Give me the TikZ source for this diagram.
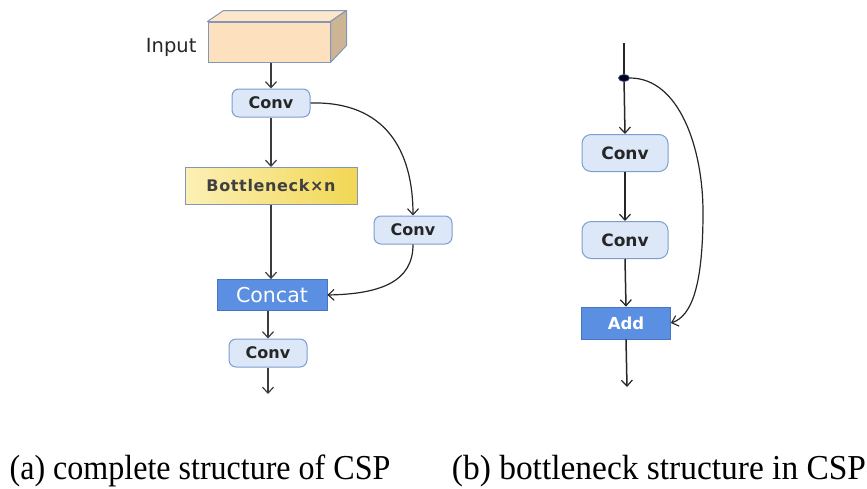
\documentclass[tikz,border=0pt]{standalone}
\usepackage{fontspec}
\setmainfont{Liberation Serif}
\newfontfamily\boxsans{DejaVu Sans}
\newfontfamily\boxsanswide[LetterSpace=4]{DejaVu Sans}
\usetikzlibrary{arrows.meta,shapes.geometric,calc}

\definecolor{convfill}{HTML}{DCE7F8}
\definecolor{convedge}{HTML}{7C9DD2}
\definecolor{bluefill}{HTML}{5A8FE2}
\definecolor{blueedge}{HTML}{4775C0}
\definecolor{inputfront}{HTML}{FDE1BF}
\definecolor{inputside}{HTML}{CDB494}
\definecolor{inputedge}{HTML}{8496B8}
\definecolor{boxedge}{HTML}{8496B8}
\definecolor{linegray}{HTML}{3C3C3C}
\definecolor{bnleft}{HTML}{FCF0B6}
\definecolor{bnright}{HTML}{F1D754}

\tikzset{
  convbox/.style={draw=convedge, fill=convfill, line width=1pt, rounded corners=7pt,
    minimum width=78pt, minimum height=28pt, inner sep=0pt,
    font=\boxsans\bfseries\fontsize{16}{19}\selectfont, text=black!85},
  bluebox/.style={draw=blueedge, fill=bluefill, line width=0.8pt,
    minimum height=31pt, inner sep=0pt, text=white},
  flow/.style={draw=linegray, line width=1.5pt, -{Straight Barb[length=6pt,width=11pt,line width=1.2pt]}},
  skip/.style={draw=black!85, line width=1.2pt, -{Straight Barb[length=6pt,width=11pt,line width=1.1pt]}},
  caption/.style={font=\fontsize{35}{40}\selectfont, anchor=base},
}
\newcommand{\narrowtext}[2]{\scalebox{#1}[1]{#2}}

\begin{document}
\begin{tikzpicture}[x=1pt,y=-1pt]
\useasboundingbox (0,0) rectangle (867,488);

% ---------- (a) complete structure of CSP ----------
\node[draw=inputedge, fill=inputfront, line width=1pt, minimum width=122pt,
      minimum height=40pt, inner sep=0pt] (input) at (269,42) {};
\coordinate (tl) at (input.north west);
\coordinate (tr) at (input.north east);
\coordinate (br) at (input.south east);
\filldraw[draw=inputedge, fill=inputfront!85!white, line width=1pt, line join=round]
  (tl) -- ++(16,-11) -- ($(tr)+(16,-11)$) -- (tr) -- cycle;
\filldraw[draw=inputedge, fill=inputside, line width=1pt, line join=round]
  (tr) -- ++(16,-11) -- ($(br)+(16,-17)$) -- (br) -- cycle;
\node[font=\boxsans\fontsize{19.5}{22}\selectfont, text=black!85, anchor=east] (inlabel) at (200,47) {Input};

\node[convbox] (c1) at (271,103) {Conv};
\node[draw=boxedge, line width=1pt, minimum width=172pt, minimum height=37pt, inner sep=0pt,
      left color=bnleft, right color=bnright,
      font=\boxsanswide\bfseries\fontsize{16}{19}\selectfont, text=black!75] (bn) at (271,186) {Bottleneck×n};
\node[convbox] (c2) at (413,230) {Conv};
\node[bluebox, minimum width=110pt, font=\boxsans\fontsize{20.5}{23}\selectfont] (cat) at (272,295) {Concat};
\node[convbox] (c3) at (268,353) {Conv};
\coordinate (aout) at (268,394);

\draw[flow] (input.south -| c1) -- (c1.north);
\draw[flow] (c1.south) -- (bn.north -| c1);
\draw[flow] (bn.south -| c1) -- (cat.north -| c1);
\draw[flow] (cat.south -| c3) -- (c3.north);
\draw[flow] (c3.south) -- (aout);
\draw[skip] (c1.east) .. controls (385,101) and (413,150) .. (c2.north);
\draw[skip] (c2.south) .. controls (413,282) and (380,294) .. (cat.east);

% ---------- (b) bottleneck structure in CSP ----------
\coordinate (bin) at (624,43);
\node[draw=blueedge!70!black, fill=black!90!blue, line width=0.8pt, ellipse,
      minimum width=11pt, minimum height=7pt, inner sep=0pt] (dot) at (624,78) {};
\node[convbox, minimum width=86pt, minimum height=37pt, rounded corners=9pt,
      font=\boxsans\bfseries\fontsize{17}{20}\selectfont] (b1) at (625,153) {Conv};
\node[convbox, minimum width=86pt, minimum height=37pt, rounded corners=9pt,
      font=\boxsans\bfseries\fontsize{17}{20}\selectfont] (b2) at (625,240) {Conv};
\node[bluebox, minimum width=89pt, minimum height=32pt,
      font=\boxsans\bfseries\fontsize{16.5}{19}\selectfont] (add) at (626,323) {Add};
\coordinate (bout) at (627,387);

\draw[black!85, line width=1.4pt] (bin) -- (dot);
\draw[flow, draw=black!85] (dot) -- (b1.north);
\draw[flow, draw=black!85] (b1.south) -- (b2.north);
\draw[flow, draw=black!85] (b2.south) -- (add.north);
\draw[flow, draw=black!85] (add.south) -- (bout);
\draw[skip] (dot.east) .. controls (680,78) and (703,150) .. (703,212)
            .. controls (703,285) and (692,316) .. (add.east);

% ---------- captions ----------
\node[caption] (capa) at (200,479) {\narrowtext{0.915}{(a) complete structure of CSP}};
\node[caption] (capb) at (659,479) {\narrowtext{0.955}{(b) bottleneck structure in CSP}};
\end{tikzpicture}
\end{document}
